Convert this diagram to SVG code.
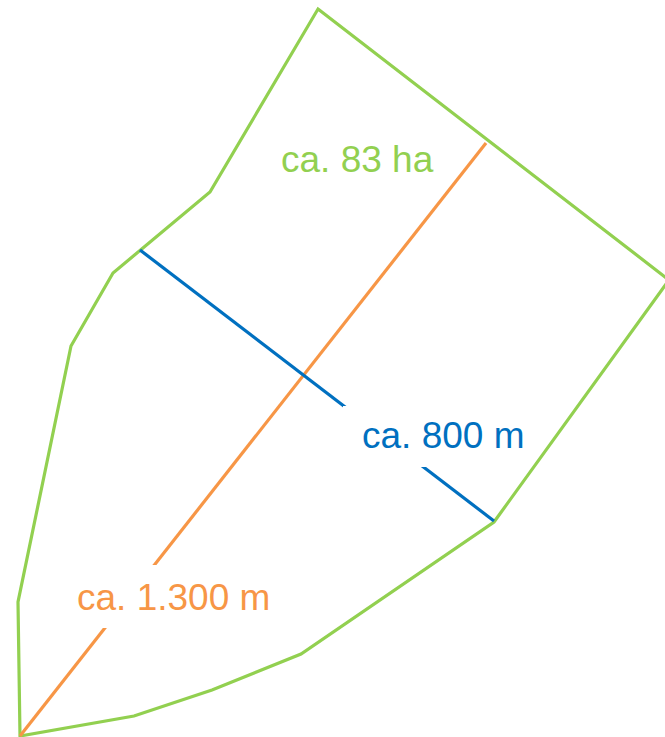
<svg xmlns="http://www.w3.org/2000/svg" width="665" height="737" viewBox="0 0 665 737">
<style>
.lbl{font-family:"Liberation Sans",Arial,sans-serif;font-size:37px}
.bg{fill:#ffffff}
</style>
<rect width="665" height="737" fill="#ffffff"/>
<g id="area">
<polygon points="318,9 669,280 494,522 301,654 212,690 134,716 20,736 18,602 71,346 113,273 210,192" fill="none" stroke="#92d050" stroke-width="3.2" stroke-linejoin="miter"/>
</g>
<g id="connectors">
<line x1="20" y1="736" x2="486" y2="143" stroke="#f79646" stroke-width="3.2"/>
<line x1="140" y1="250" x2="494" y2="521" stroke="#0070c0" stroke-width="3.2"/>
</g>
<g id="label-area">
<text class="lbl" x="281" y="172" fill="#92d050">ca. 83 ha</text>
</g>
<g id="label-width">
<rect class="bg" x="343" y="406" width="187" height="61"/>
<text class="lbl" x="362" y="448" fill="#0070c0">ca. 800 m</text>
</g>
<g id="label-length">
<rect class="bg" x="60" y="565" width="228" height="63"/>
<text class="lbl" x="77" y="610" fill="#f79646">ca. 1.300 m</text>
</g>
</svg>
